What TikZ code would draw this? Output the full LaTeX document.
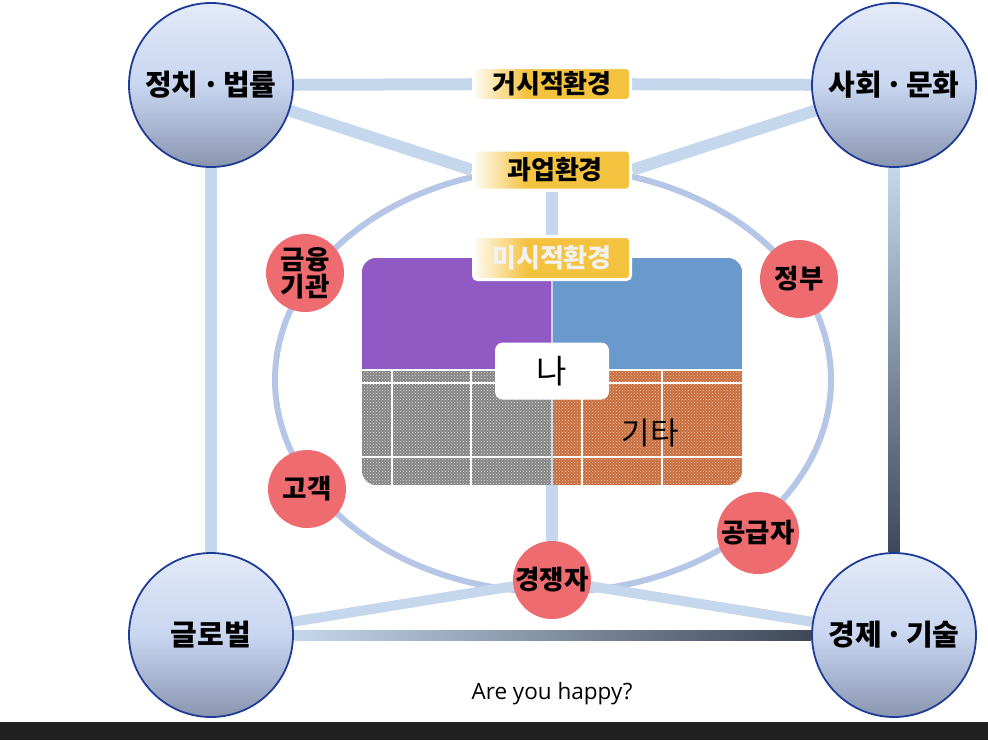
\documentclass[tikz,border=0pt]{standalone}
\usepackage{fontspec}
\setmainfont{Noto Sans CJK KR}
\newfontfamily\latinfont{Open Sans}
\usetikzlibrary{calc,patterns}
\definecolor{labgold}{HTML}{F3C23E}
\definecolor{linkblue}{HTML}{C5D7EC}
\definecolor{ringblue}{HTML}{B5C6E6}
\definecolor{redfill}{HTML}{EE6B70}
\definecolor{circborder}{HTML}{1E3C96}
\definecolor{circtop}{HTML}{E4EBF9}
\definecolor{circmid}{HTML}{C9D6F0}
\definecolor{circlow}{HTML}{AAB7D3}
\definecolor{circbot}{HTML}{8A95AE}
\definecolor{darklink}{HTML}{3E4859}
\definecolor{boardpurple}{HTML}{9059C3}
\definecolor{boardblue}{HTML}{6999CD}
\definecolor{boardgray}{HTML}{858585}
\definecolor{boardorange}{HTML}{C96E3E}
\definecolor{barblack}{HTML}{202020}
\definecolor{microtext}{HTML}{F2F2F2}
\pgfdeclarehorizontalshading{goldfade}{100bp}{color(0bp)=(labgold!5); color(25bp)=(labgold!5); color(42bp)=(labgold); color(100bp)=(labgold)}
\pgfdeclareverticalshading{bubble}{100bp}{color(0bp)=(circbot); color(25bp)=(circbot); color(38bp)=(circlow); color(50bp)=(circmid); color(62bp)=(circmid!60!circtop); color(75bp)=(circtop); color(100bp)=(circtop)}
\pgfdeclarelayer{bg}
\pgfsetlayers{bg,main}
\newcommand{\middot}{\hspace{0.12em}·\hspace{0.12em}}
\tikzset{
  bigcirc/.style={circle, minimum size=164, inner sep=0, draw=circborder, line width=1.8,
    shading=bubble, font=\fontsize{29}{34}\selectfont\bfseries},
  envlab/.style={rounded corners=4, minimum width=157, inner sep=0, shading=goldfade,
    draw=white, line width=3, font=\fontsize{26}{30}\selectfont\bfseries},
  redcirc/.style={circle, minimum size=78, inner sep=0, fill=redfill,
    font=\fontsize{26.5}{30}\selectfont\bfseries, align=center},
  link/.style={line width=12, draw=linkblue},
  thinlink/.style={line width=10, draw=linkblue},
  ring/.style={line width=6, draw=ringblue},
  gridline/.style={draw=white, line width=1.2},
}
\begin{document}
\begin{tikzpicture}[x=1pt,y=-1pt]
\useasboundingbox (0,0) rectangle (988,740);
\fill[barblack] (0,722) rectangle (988,740);

% board
\node[minimum width=380, minimum height=227, inner sep=0] (board) at (552,371.5) {};
\begin{scope}
  \clip[rounded corners=15] (board.north west) rectangle (board.south east);
  \fill[boardpurple] (board.north west) rectangle (552,370);
  \fill[boardblue] (552,258) rectangle (board.east |- 0,370);
  \fill[boardgray] (board.west |- 0,370) rectangle (552,485);
  \fill[boardorange] (552,370) rectangle (board.south east);
  \fill[pattern=crosshatch dots, pattern color=white!75!gray] (board.west |- 0,370) rectangle (552,485);
  \fill[pattern=crosshatch dots, pattern color=white!60!boardorange] (552,370) rectangle (board.south east);
  \draw[gridline] (362,370) -- (742,370);
  \draw[gridline] (362,383) -- (742,383);
  \draw[gridline] (362,457) -- (742,457);
  \draw[gridline] (392,370) -- (392,485);
  \draw[gridline] (471,370) -- (471,485);
  \draw[gridline] (582,370) -- (582,485);
  \draw[gridline] (662,370) -- (662,485);
  \draw[draw=linkblue, line width=1.2] (552,258) -- (552,485);
\end{scope}
\node[fill=white, rounded corners=8, minimum width=114, minimum height=57, inner sep=0,
  font=\fontsize{33}{36}\selectfont] (me) at (552,371) {나};
\node[font=\fontsize{31}{34}\selectfont, inner sep=0] (etc) at (650,433) {기타};

% environment labels
\node[envlab, minimum height=33] (macro) at (552,84) {거시적환경};
\node[envlab, minimum height=40] (task) at (552,170) {\hspace{6pt}과업환경};
\node[envlab, minimum height=43, text=microtext] (micro) at (552,258) {미시적환경};

% big circles
\node[bigcirc] (pol) at (211,85) {정치\middot 법률};
\node[bigcirc] (soc) at (894,85) {사회\middot 문화};
\node[bigcirc] (glo) at (211,635) {글로벌};
\node[bigcirc] (eco) at (894,635) {경제\middot 기술};

% red circles
\node[redcirc] (fin) at (305,273) {금융\\[-3pt]기관};
\node[redcirc] (cust) at (307,489) {고객};
\node[redcirc] (gov) at (799,279) {정부};
\node[redcirc, minimum size=82] (supp) at (758,533) {공급자};
\node[redcirc] (comp) at (552,580) {경쟁자};

\node[font=\latinfont\fontsize{22.5}{26}\selectfont, inner sep=0] (q) at (552,694) {Are you happy?};

\begin{pgfonlayer}{bg}
  \draw[ring] (553,380) ellipse [x radius=278, y radius=212];
  \draw[link] (pol) -- (macro);
  \draw[link] (macro) -- (soc);
  \draw[link] (pol) -- (task.west);
  \draw[link] (task.east) -- (soc);
  \draw[link] (pol) -- (glo);
  \draw[link] (task.south) -- (micro.north);
  \draw[link] (board.south) -- (comp);
  \draw[thinlink] (glo) -- (comp);
  \draw[thinlink] (comp) -- (eco);
  \shade[top color=linkblue, middle color=darklink!45!linkblue, bottom color=darklink]
    ($(soc.south)+(-5.5,0)$) rectangle ($(eco.north)+(5.5,0)$);
  \shade[left color=linkblue, middle color=darklink!45!linkblue, right color=darklink]
    ($(glo.east)+(0,-5)$) rectangle ($(eco.west)+(0,5)$);
\end{pgfonlayer}
\end{tikzpicture}
\end{document}
